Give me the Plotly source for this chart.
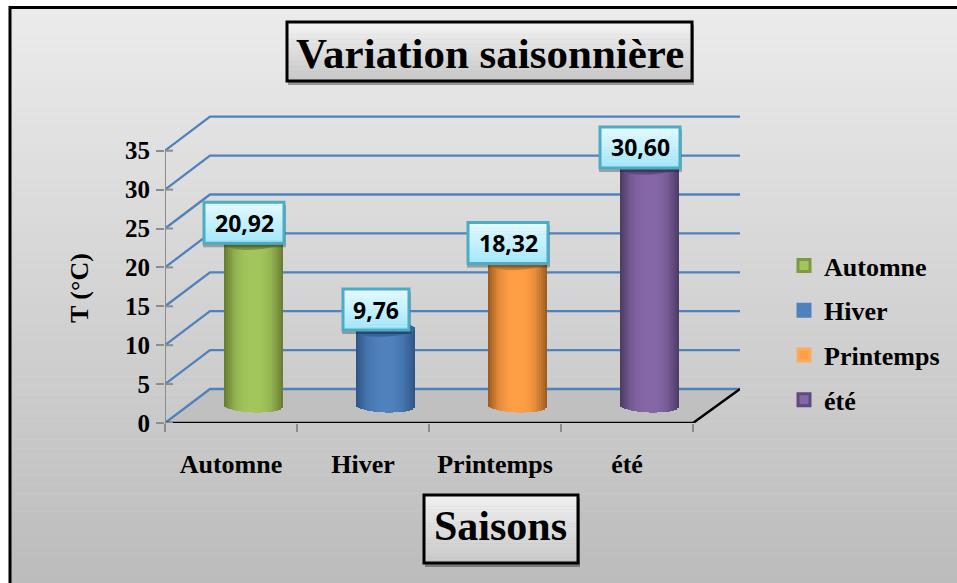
import math
import plotly.graph_objects as go

# ---- data -------------------------------------------------------------
categories = ["Automne", "Hiver", "Printemps", "été"]
values = [20.92, 9.76, 18.32, 30.60]
value_labels = ["20,92", "9,76", "18,32", "30,60"]
y_ticks = [0, 5, 10, 15, 20, 25, 30, 35]

# ---- styles -----------------------------------------------------------
W, H = 957, 583
SERIF = "Liberation Serif"
X0, X1 = 165, 740            # pixel span of the x axis
Y0, Y1 = 423, 100            # pixel span of the y axis
PX_X = 132.0                 # pixels per category
PX_Y = 7.78                  # pixels per unit
XMAX = (X1 - X0) / PX_X
YMAX = (Y0 - Y1) / PX_Y
WALL_DX = 45 / PX_X          # depth of the 3D box
WALL_DY = 34 / PX_Y
BAR_DX = 23 / PX_X           # bars stand mid-depth
BAR_DY = 17 / PX_Y
RX = 29 / PX_X
RY = 6.5 / PX_Y
TILT = 1.5 / PX_Y
GRID = "#4f81bd"

base_colors = ["#a2c65c", "#4f81bd", "#ff9f45", "#8567a7"]
edge_colors = ["#66792f", "#2d5283", "#98591d", "#4a3862"]
cap_colors = ["#76903f", "#38649b", "#c87a30", "#5f4a7d"]
swatch_lines = ["#7d9a42", "#4f81bd", "#fbab5f", "#5e4a7e"]


def mix(c1, c2, t):
    a = [int(c1[i:i + 2], 16) for i in (1, 3, 5)]
    b = [int(c2[i:i + 2], 16) for i in (1, 3, 5)]
    return "#%02x%02x%02x" % tuple(round(a[i] + (b[i] - a[i]) * t) for i in range(3))


def px(x):
    return x / W


def py(y):
    return 1 - y / H


def paper_box(x0, y0, x1, y1, top, bottom, line, lw, n=24):
    out = [dict(type="rect", xref="paper", yref="paper", x0=px(x0 + 1), x1=px(x1 + 2),
                y0=py(y0 + 3), y1=py(y1 + 4), fillcolor="rgba(0,0,0,0.35)", line_width=0)]
    for i in range(n):
        a = y0 + (y1 - y0) * i / n
        b = y0 + (y1 - y0) * (i + 1) / n + 0.5
        out.append(dict(type="rect", xref="paper", yref="paper", x0=px(x0), x1=px(x1),
                        y0=py(a), y1=py(b), fillcolor=mix(top, bottom, i / (n - 1)), line_width=0))
    out.append(dict(type="rect", xref="paper", yref="paper", x0=px(x0), x1=px(x1),
                    y0=py(y0), y1=py(y1), line=dict(color=line, width=lw)))
    return out


def anchored_box(xa, ya, dx0, dx1, dy0, dy1, top, bottom, line, lw, n=14):
    base = dict(type="rect", xref="x", yref="y", xsizemode="pixel", ysizemode="pixel",
                xanchor=xa, yanchor=ya)
    out = [dict(base, x0=dx0 - 1, x1=dx1 + 2, y0=dy0 - 4, y1=dy1 - 3,
                fillcolor="rgba(0,0,0,0.28)", line_width=0)]
    for i in range(n):
        hi = dy1 - (dy1 - dy0) * i / n
        lo = dy1 - (dy1 - dy0) * (i + 1) / n - 0.5
        out.append(dict(base, x0=dx0, x1=dx1, y0=lo, y1=hi,
                        fillcolor=mix(top, bottom, i / (n - 1)), line_width=0))
    out.append(dict(base, x0=dx0, x1=dx1, y0=dy0, y1=dy1, line=dict(color=line, width=lw)))
    return out


fig = go.Figure()
skip = dict(hoverinfo="skip", showlegend=False)

# black floor edge
fig.add_trace(go.Scatter(x=[0, 4, XMAX], y=[0, 0, WALL_DY], mode="lines",
                         line=dict(color="black", width=2.5), cliponaxis=False, **skip))

# inner half of the crossing tick marks
tx, ty = [], []
for t in y_ticks:
    tx += [0, 8 / PX_X, None]
    ty += [t, t, None]
fig.add_trace(go.Scatter(x=tx, y=ty, mode="lines", line=dict(color="#8c8c8c", width=2),
                         cliponaxis=False, **skip))

# legend-carrying solid bars, under the shaded cylinder strips
for i, cat in enumerate(categories):
    fig.add_trace(go.Bar(x=[i + 0.5 + BAR_DX], y=[values[i]], base=[BAR_DY], width=[RX * 1.8],
                         name=cat, legendgroup=cat, hoverinfo="skip",
                         marker=dict(color=base_colors[i],
                                     line=dict(color=swatch_lines[i], width=3))))

# cylinders
N = 32
for i, v in enumerate(values):
    cx = i + 0.5 + BAR_DX
    xs, hs, bs, cs = [], [], [], []
    for k in range(N):
        u = -1 + (2 * k + 1) / N
        arc = math.sqrt(1 - u * u)
        bottom = BAR_DY - RY * arc - TILT * u * 0.6
        top = BAR_DY + v + RY * arc + TILT * u
        xs.append(cx + u * RX)
        bs.append(bottom)
        hs.append(top - bottom)
        cs.append(mix(base_colors[i], edge_colors[i], min(1, abs(u) ** 2.6)))
    fig.add_trace(go.Bar(x=xs, y=hs, base=bs, width=[2.15 * RX / N] * N,
                         marker=dict(color=cs, line_width=0), **skip))
    ex, ey = [], []
    for k in range(61):
        a = 2 * math.pi * k / 60
        ex.append(cx + RX * math.cos(a))
        ey.append(BAR_DY + v + RY * math.sin(a) + TILT * math.cos(a))
    fig.add_trace(go.Scatter(x=ex, y=ey, mode="none", fill="toself",
                             fillcolor=cap_colors[i], **skip))

shapes = []
# page background gradient + frame
BANDS = 64
for i in range(BANDS):
    a = 8 + (H - 8) * i / BANDS
    b = 8 + (H - 8) * (i + 1) / BANDS + 0.5
    shapes.append(dict(type="rect", xref="paper", yref="paper", layer="below",
                       x0=px(10), x1=px(W + 5), y0=py(a), y1=py(b),
                       fillcolor=mix("#ebebeb", "#bcbcbc", i / (BANDS - 1)), line_width=0))
shapes.append(dict(type="rect", xref="paper", yref="paper", layer="below",
                   x0=px(10), x1=px(W + 10), y0=py(7.5), y1=py(H + 10),
                   line=dict(color="black", width=3)))

# floor and walls of the 3D box, under the bars
shapes.append(dict(type="path", xref="x", yref="y", layer="below", line_width=0, fillcolor="#c0c0c0",
                   path=f"M 0 0 L 4 0 L {XMAX} {WALL_DY} L {WALL_DX} {WALL_DY} Z"))
for t in y_ticks:
    shapes.append(dict(type="path", xref="x", yref="y", layer="below",
                       line=dict(color=GRID, width=2.3),
                       path=f"M 0 {t} L {WALL_DX} {t + WALL_DY} L {XMAX} {t + WALL_DY}"))

shapes += paper_box(287, 22, 692, 81, "#f2f2f2", "#c8c8c8", "black", 3)
shapes += paper_box(424, 495, 578, 563, "#f0f0f0", "#cacaca", "black", 3)

annotations = [
    dict(text="<b>Variation saisonnière</b>", x=px(489.5), y=py(53), xref="paper", yref="paper",
         showarrow=False, xanchor="center", yanchor="middle",
         font=dict(family=SERIF, size=43, color="black")),
    dict(text="<b>Saisons</b>", x=px(501), y=py(526), xref="paper", yref="paper",
         showarrow=False, xanchor="center", yanchor="middle",
         font=dict(family=SERIF, size=42, color="black")),
    dict(text="<b>T (°C)</b>", x=px(80), y=py(288), xref="paper", yref="paper",
         showarrow=False, textangle=-90, xanchor="center", yanchor="middle",
         font=dict(family=SERIF, size=26, color="black")),
]

# value labels, anchored on the top of each bar
for i, v in enumerate(values):
    cx = i + 0.5 + BAR_DX
    cy = BAR_DY + v
    half = 33 if len(value_labels[i]) < 5 else 40
    shapes += anchored_box(cx, cy, -10 - half, -10 + half, 0, 41, "#e4f9ff", "#a4e8fb", "#4bacc6", 3)
    annotations.append(dict(text="<b>" + value_labels[i] + "</b>", x=cx, y=cy, xref="x", yref="y",
                            xshift=-10, yshift=20.5, showarrow=False,
                            xanchor="center", yanchor="middle",
                            font=dict(family="Open Sans", size=23, color="black")))

fig.update_layout(
    width=W, height=H, autosize=False,
    margin=dict(l=0, r=0, t=0, b=0, pad=0, autoexpand=False),
    paper_bgcolor="white", plot_bgcolor="rgba(0,0,0,0)",
    barmode="overlay", bargap=0,
    showlegend=True,
    legend=dict(x=px(784), y=py(242), xanchor="left", yanchor="top",
                bgcolor="rgba(0,0,0,0)", borderwidth=0, tracegroupgap=8,
                font=dict(family=SERIF, size=26, color="black", weight="bold"),
                itemclick=False, itemdoubleclick=False),
    xaxis=dict(domain=[px(X0), px(X1)], range=[0, XMAX], anchor="y",
               tickmode="array", tickvals=[0.5, 1.5, 2.5, 3.5], ticktext=categories,
               ticks="", ticklabelstandoff=23, showgrid=False, zeroline=False, showline=False,
               tickfont=dict(family=SERIF, size=26, color="black", weight="bold"),
               minor=dict(tickmode="array", tickvals=[0, 1, 2, 3, 4], ticks="outside",
                          ticklen=8, tickwidth=2, tickcolor="#8c8c8c", showgrid=False)),
    yaxis=dict(domain=[py(Y0), py(Y1)], range=[0, YMAX], anchor="x",
               tickmode="array", tickvals=y_ticks, ticks="outside", ticklen=8, tickwidth=2,
               tickcolor="#8c8c8c", showgrid=False, zeroline=False,
               showline=False, ticklabelstandoff=1,
               tickfont=dict(family=SERIF, size=25, color="black", weight="bold")),
    shapes=shapes, annotations=annotations,
)

# y axis line continuing a little below the floor
fig.add_shape(type="line", xref="x", yref="paper", x0=0, x1=0, y0=py(431), y1=py(150.7),
              line=dict(color="#8c8c8c", width=2), layer="above")

fig.write_html("out.html", config=dict(displayModeBar=False),
               post_script="document.body.style.margin='0';document.body.style.overflow='hidden';")
